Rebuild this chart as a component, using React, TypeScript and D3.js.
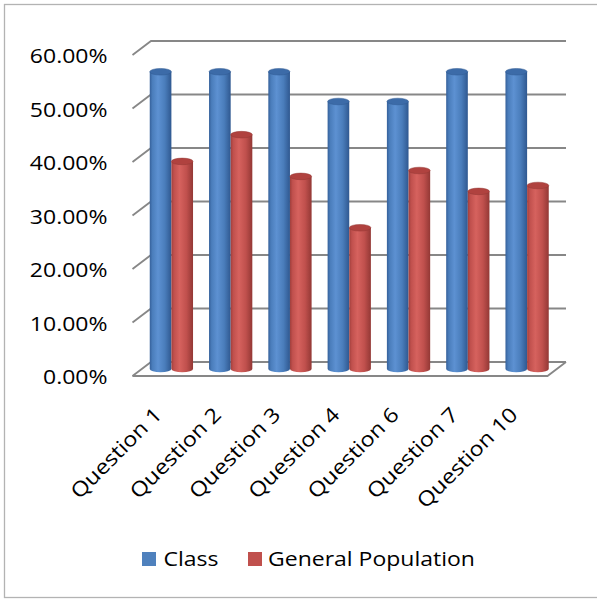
import React from "react";
import * as d3 from "d3";

// Share of correct answers per question
const categories = [
  "Question 1",
  "Question 2",
  "Question 3",
  "Question 4",
  "Question 6",
  "Question 7",
  "Question 10",
];
const seriesNames = ["Class", "General Population"];
const classValues = [0.5556, 0.5556, 0.5556, 0.5, 0.5, 0.5556, 0.5556];
const generalValues = [0.388, 0.438, 0.36, 0.264, 0.371, 0.332, 0.343];
const yTicks = [0, 0.1, 0.2, 0.3, 0.4, 0.5, 0.6];

const W = 597;
const H = 599;
// oblique depth of the plot box
const DX = 18.5;
const DY = -14;
const FONT = "'Open Sans', 'Liberation Sans', sans-serif";
const STRETCH = 1.15;

const x = d3
  .scaleBand<string>()
  .domain(categories)
  .range([132.5, 547.5])
  .paddingInner(0.27)
  .paddingOuter(0.135);
const xs = d3.scaleBand<string>().domain(seriesNames).range([0, x.bandwidth()]);
const y = d3.scaleLinear().domain([0, 0.6]).range([376, 55]);
const fmt = d3.format(".2%");

const palette = {
  Class: { edge: "#35609a", light: "#5d91d2", mid: "#4a7dbb", dark: "#2f5890", top: "#3c6ba8" },
  "General Population": { edge: "#a03f3c", light: "#d6625e", mid: "#c0504d", dark: "#933835", top: "#b0423f" },
};

function Cylinder({ cx, v, name }: { cx: number; v: number; name: string }) {
  const rx = xs.bandwidth() / 2;
  const ry = 3.3;
  const yb = y(0) + DY / 2;
  const yt = y(v) + DY / 2;
  const id = name === "Class" ? "gClass" : "gGen";
  const p = (palette as any)[name];
  const body = `M${cx - rx},${yt} L${cx - rx},${yb} A${rx},${ry} 0 0 0 ${cx + rx},${yb} L${cx + rx},${yt} Z`;
  return (
    <g>
      <path d={body} fill={`url(#${id})`} />
      <ellipse cx={cx} cy={yt} rx={rx} ry={ry} fill={p.top} stroke={p.dark} strokeWidth={0.5} />
    </g>
  );
}

export default function App() {
  const series = [
    { name: "Class", values: classValues },
    { name: "General Population", values: generalValues },
  ];
  const x0 = x.range()[0];
  const x1 = x.range()[1];
  const grid = "#878787";
  return (
    <svg
      width={W}
      height={H}
      style={{ position: "absolute", left: 0, top: 0, background: "#fff" }}
    >
      <defs>
        {series.map((s) => {
          const p = (palette as any)[s.name];
          return (
            <linearGradient key={s.name} id={s.name === "Class" ? "gClass" : "gGen"} x1="0" x2="1" y1="0" y2="0">
              <stop offset="0" stopColor={p.edge} />
              <stop offset="0.12" stopColor={p.mid} />
              <stop offset="0.38" stopColor={p.light} />
              <stop offset="0.7" stopColor={p.mid} />
              <stop offset="1" stopColor={p.dark} />
            </linearGradient>
          );
        })}
      </defs>
      <rect x={4.5} y={4.5} width={W + 10} height={H - 6} fill="#fff" stroke="#b3b3b3" strokeWidth={1.3} />

      {/* back wall gridlines with the left-edge depth diagonals */}
      {yTicks.map((t) => (
        <path
          key={t}
          d={`M${x0},${y(t)} L${x0 + DX},${y(t) + DY} L${x1 + DX},${y(t) + DY}`}
          fill="none"
          stroke={grid}
          strokeWidth={1.8}
        />
      ))}
      {/* floor */}
      <path
        d={`M${x0},${y(0)} L${x1},${y(0)} L${x1 + DX},${y(0) + DY}`}
        fill="none"
        stroke={grid}
        strokeWidth={1.8}
      />

      {categories.map((c, i) =>
        series.map((s) => (
          <Cylinder
            key={c + s.name}
            cx={(x(c) as number) + (xs(s.name) as number) + xs.bandwidth() / 2 + DX / 2}
            v={s.values[i]}
            name={s.name}
          />
        ))
      )}

      {/* value axis labels */}
      {yTicks.map((t) => (
        <text
          key={t}
          transform={`translate(107.5,${y(t) + 8}) scale(${STRETCH},1)`}
          textAnchor="end"
          fontFamily={FONT}
          fontSize={20}
          fill="#000"
        >
          {fmt(t)}
        </text>
      ))}

      {/* category labels */}
      {categories.map((c) => (
        <text
          key={c}
          transform={`translate(${(x(c) as number) + x.bandwidth() / 2 + 1},416) rotate(-45) scale(1.14,1)`}
          textAnchor="end"
          fontFamily={FONT}
          fontSize={20.5}
          fill="#000"
        >
          {c}
        </text>
      ))}

      {/* legend */}
      <rect x={142} y={552} width={14} height={14} fill="#4f81bd" />
      <text transform={`translate(163.5,566) scale(${STRETCH},1)`} fontFamily={FONT} fontSize={20} fill="#000">
        {seriesNames[0]}
      </text>
      <rect x={248} y={552} width={14} height={14} fill="#c0504d" />
      <text transform={`translate(268,566) scale(${STRETCH},1)`} fontFamily={FONT} fontSize={20} fill="#000">
        {seriesNames[1]}
      </text>
    </svg>
  );
}
